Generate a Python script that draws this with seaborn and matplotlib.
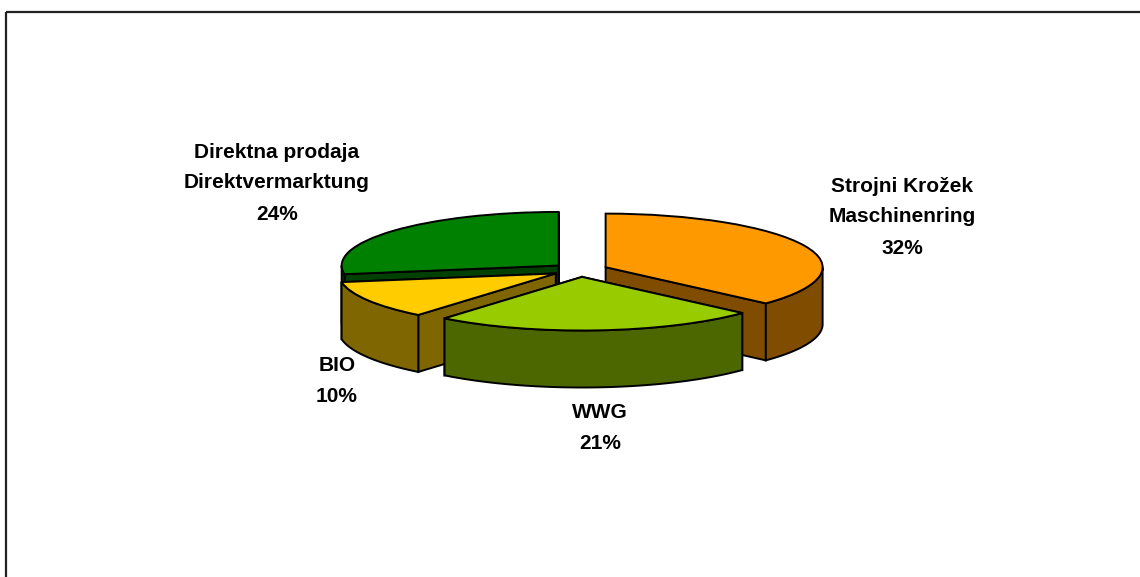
"""3D-Tortendiagramm (Excel-Stil) mit matplotlib + seaborn."""

import numpy as np
import matplotlib
matplotlib.use("Agg")
import matplotlib.pyplot as plt
from matplotlib.patches import Polygon, Rectangle
from matplotlib.transforms import Affine2D
import seaborn as sns

# Daten
categories = [
    "Strojni Krožek\nMaschinenring",
    "WWG",
    "BIO",
    "Direktna prodaja\nDirektvermarktung",
]
shares = [32, 21, 10, 24]

# Farben: Oberseite / Seitenwand
top_colors = ["#FF9900", "#99CC00", "#FFCC00", "#008000"]
side_colors = ["#804C00", "#4C6600", "#806600", "#004000"]

# Beschriftungspositionen (Pixel)
label_pos = [(902, 217), (600, 428), (337, 381), (277, 183)]

# Geometrie der Torte (Pixel)
CX, CY = 580, 270
RX = 217
TILT = 0.247
DEPTH = 57
EXPLODE = 28  # Datenkoordinaten, nicht relativ zum Radius
EDGE = dict(edgecolor="black", linewidth=1.4)

sns.set_theme(style="white")
plt.rcParams["font.family"] = ["Liberation Sans", "DejaVu Sans"]

fig = plt.figure(figsize=(11.4, 5.77), dpi=100)
ax = fig.add_axes([0, 0, 1, 1])

wedges, _ = ax.pie(
    shares,
    colors=top_colors,
    startangle=90,
    counterclock=False,
    explode=[EXPLODE] * len(shares),
    radius=RX,
    center=(0, 0),
    wedgeprops=EDGE,
)
ax.set_aspect("auto")
ax.set_xlim(0, 1140)
ax.set_ylim(577, 0)
ax.axis("off")

# flache Torte -> geneigte Ellipse
squash = Affine2D().scale(1, -TILT).translate(CX, CY) + ax.transData


def to_px(u, v):
    return CX + u, CY - TILT * v


mids = [np.radians((w.theta1 + w.theta2) / 2) for w in wedges]
rank = np.argsort(np.argsort(-np.sin(mids)))  # hinten zuerst

for i, w in enumerate(wedges):
    (ux, uy), r = w.center, w.r
    t1, t2 = np.radians(w.theta1), np.radians(w.theta2)
    base = 10 + 2 * rank[i]
    apex = to_px(ux, uy)

    # Schnittflächen
    for t, normal in ((t1, t1 - np.pi / 2), (t2, t2 + np.pi / 2)):
        rim = to_px(ux + r * np.cos(t), uy + r * np.sin(t))
        pts = [apex, rim, (rim[0], rim[1] + DEPTH), (apex[0], apex[1] + DEPTH)]
        z = base + (0.2 if np.sin(normal) < 0 else 0.1)
        ax.add_patch(Polygon(pts, closed=True, facecolor=side_colors[i],
                             zorder=z, **EDGE))

    # Außenwand (nur sichtbarer, vorderer Teil)
    ts = np.linspace(t1, t2, 300)
    ts = ts[np.sin(ts) <= 0]
    if len(ts) > 1:
        top = [to_px(ux + r * np.cos(t), uy + r * np.sin(t)) for t in ts]
        bottom = [(x, y + DEPTH) for x, y in top[::-1]]
        ax.add_patch(Polygon(top + bottom, closed=True,
                             facecolor=side_colors[i], zorder=base + 0.3,
                             **EDGE))

    w.set_transform(squash)
    w.set_zorder(base + 0.5)

for cat, share, (x, y) in zip(categories, shares, label_pos):
    ax.text(x, y, f"{cat}\n{share}%", ha="center", va="center",
            multialignment="center", fontsize=15, fontweight="bold",
            linespacing=1.8, color="black", zorder=30)

# Rahmen
ax.add_patch(Rectangle((6, 12), 1200, 620, fill=False,
                       edgecolor="#222222", linewidth=1.6, zorder=40))

fig.savefig("out.png", dpi=100)
plt.close(fig)
